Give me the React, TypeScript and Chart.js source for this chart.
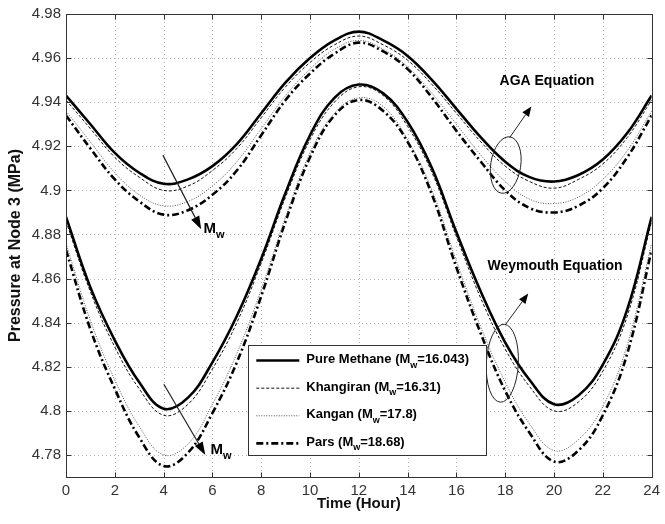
import React, { useEffect, useRef } from 'react';
import { Chart, registerables } from 'chart.js';

Chart.register(...registerables);

const FONT = '"Liberation Sans", Arial, Helvetica, sans-serif';

// ---- data ----
const hours = [0, 1, 2, 3, 4, 5, 6, 7, 8, 9, 10, 11, 12, 13, 14, 15, 16, 17, 18, 19, 20, 21, 22, 23, 24];

const agaPureMethane = [4.943, 4.930, 4.917, 4.908, 4.903, 4.905, 4.911, 4.921, 4.935, 4.949, 4.960, 4.968, 4.972, 4.968, 4.961, 4.950, 4.937, 4.924, 4.913, 4.906, 4.904, 4.907, 4.914, 4.926, 4.943];
const agaKhangiran = [4.941, 4.928, 4.915, 4.906, 4.900, 4.902, 4.909, 4.919, 4.933, 4.947, 4.958, 4.966, 4.970, 4.966, 4.959, 4.948, 4.935, 4.922, 4.911, 4.904, 4.901, 4.905, 4.912, 4.924, 4.941];
const agaKangan = [4.936, 4.922, 4.908, 4.898, 4.893, 4.895, 4.902, 4.913, 4.928, 4.943, 4.955, 4.964, 4.968, 4.964, 4.956, 4.944, 4.930, 4.916, 4.904, 4.896, 4.894, 4.897, 4.905, 4.918, 4.936];
const agaPars = [4.934, 4.919, 4.905, 4.895, 4.889, 4.891, 4.898, 4.909, 4.925, 4.941, 4.953, 4.962, 4.967, 4.963, 4.955, 4.942, 4.927, 4.913, 4.900, 4.892, 4.890, 4.893, 4.901, 4.915, 4.934];

const weyPureMethane = [4.888, 4.856, 4.832, 4.813, 4.801, 4.806, 4.822, 4.843, 4.869, 4.899, 4.925, 4.942, 4.948, 4.944, 4.931, 4.910, 4.881, 4.854, 4.831, 4.814, 4.803, 4.807, 4.821, 4.846, 4.888];
const weyKhangiran = [4.886, 4.854, 4.829, 4.810, 4.798, 4.803, 4.819, 4.840, 4.867, 4.897, 4.923, 4.940, 4.947, 4.943, 4.929, 4.908, 4.879, 4.851, 4.828, 4.811, 4.800, 4.804, 4.818, 4.843, 4.886];
const weyKangan = [4.876, 4.841, 4.814, 4.793, 4.780, 4.785, 4.803, 4.826, 4.855, 4.888, 4.917, 4.935, 4.942, 4.938, 4.923, 4.900, 4.868, 4.838, 4.813, 4.794, 4.782, 4.787, 4.802, 4.830, 4.876];
const weyPars = [4.873, 4.837, 4.810, 4.788, 4.775, 4.781, 4.799, 4.822, 4.852, 4.886, 4.915, 4.934, 4.941, 4.936, 4.922, 4.898, 4.865, 4.835, 4.809, 4.790, 4.777, 4.782, 4.798, 4.826, 4.873];

const xTickValues = [0, 2, 4, 6, 8, 10, 12, 14, 16, 18, 20, 22, 24];
const yTickValues = [4.78, 4.8, 4.82, 4.84, 4.86, 4.88, 4.9, 4.92, 4.94, 4.96, 4.98];

const gasNames = ['Pure Methane', 'Khangiran', 'Kangan', 'Pars'];
const gasMw = ['16.043', '16.31', '17.8', '18.68'];

// ---- styles ----
const gasStyles = [
  { color: '#000000', width: 2.6, dash: [] as number[] },
  { color: '#111111', width: 1, dash: [3, 2] },
  { color: '#555555', width: 1, dash: [1, 1.5] },
  { color: '#000000', width: 2.6, dash: [7, 3, 2, 3] },
];

const seriesAga = [agaPureMethane, agaKhangiran, agaKangan, agaPars];
const seriesWey = [weyPureMethane, weyKhangiran, weyKangan, weyPars];

function drawArrow(ctx: CanvasRenderingContext2D, x1: number, y1: number, x2: number, y2: number, headLen: number, headW: number) {
  const ang = Math.atan2(y2 - y1, x2 - x1);
  const bx = x2 - Math.cos(ang) * headLen;
  const by = y2 - Math.sin(ang) * headLen;
  ctx.beginPath();
  ctx.moveTo(x1, y1);
  ctx.lineTo(bx, by);
  ctx.stroke();
  ctx.beginPath();
  ctx.moveTo(x2, y2);
  ctx.lineTo(bx + Math.sin(ang) * headW / 2, by - Math.cos(ang) * headW / 2);
  ctx.lineTo(bx - Math.sin(ang) * headW / 2, by + Math.cos(ang) * headW / 2);
  ctx.closePath();
  ctx.fill();
}

function drawSubText(ctx: CanvasRenderingContext2D, x: number, y: number, pre: string, sub: string, post: string, size: number) {
  ctx.textAlign = 'left';
  ctx.textBaseline = 'middle';
  ctx.font = `bold ${size}px ${FONT}`;
  ctx.fillText(pre, x, y);
  let cx = x + ctx.measureText(pre).width;
  const subSize = Math.round(size * 0.72);
  ctx.font = `bold ${subSize}px ${FONT}`;
  ctx.fillText(sub, cx, y + size * 0.42);
  cx += ctx.measureText(sub).width;
  ctx.font = `bold ${size}px ${FONT}`;
  ctx.fillText(post, cx, y);
}

const framePlugin = {
  id: 'matlabFrame',
  beforeDatasetsDraw(chart: any) {
    const { ctx, chartArea: a, scales } = chart;
    ctx.save();
    ctx.strokeStyle = '#b4b4b4';
    ctx.lineWidth = 1;
    ctx.setLineDash([1, 3]);
    xTickValues.forEach((v) => {
      const px = Math.round(scales.x.getPixelForValue(v)) + 0.5;
      ctx.beginPath();
      ctx.moveTo(px, a.top);
      ctx.lineTo(px, a.bottom);
      ctx.stroke();
    });
    yTickValues.forEach((v) => {
      const py = Math.round(scales.y.getPixelForValue(v)) + 0.5;
      ctx.beginPath();
      ctx.moveTo(a.left, py);
      ctx.lineTo(a.right, py);
      ctx.stroke();
    });
    ctx.restore();
  },
  afterDatasetsDraw(chart: any) {
    const { ctx, chartArea: a, scales } = chart;
    ctx.save();
    ctx.setLineDash([]);
    ctx.strokeStyle = '#333333';
    ctx.lineWidth = 1;
    const L = Math.round(a.left) + 0.5, R = Math.round(a.right) + 0.5;
    const T = Math.round(a.top) + 0.5, B = Math.round(a.bottom) + 0.5;
    ctx.strokeRect(L, T, R - L, B - T);
    const tl = 5;
    ctx.beginPath();
    xTickValues.forEach((v) => {
      const px = Math.round(scales.x.getPixelForValue(v)) + 0.5;
      ctx.moveTo(px, B); ctx.lineTo(px, B - tl);
      ctx.moveTo(px, T); ctx.lineTo(px, T + tl);
    });
    yTickValues.forEach((v) => {
      const py = Math.round(scales.y.getPixelForValue(v)) + 0.5;
      ctx.moveTo(L, py); ctx.lineTo(L + tl, py);
      ctx.moveTo(R, py); ctx.lineTo(R - tl, py);
    });
    ctx.stroke();
    ctx.restore();
  },
  afterDraw(chart: any) {
    const { ctx, scales } = chart;
    const X = (v: number) => scales.x.getPixelForValue(v);
    const Y = (v: number) => scales.y.getPixelForValue(v);
    ctx.save();
    ctx.fillStyle = '#000';
    ctx.strokeStyle = '#222';
    ctx.lineWidth = 1;
    ctx.setLineDash([]);

    // Equation labels
    ctx.font = `bold 14px ${FONT}`;
    ctx.textAlign = 'center';
    ctx.textBaseline = 'middle';
    ctx.fillText('AGA Equation', X(19.71), Y(4.9494));
    ctx.fillText('Weymouth Equation', X(20.04), Y(4.8658));

    // ellipses
    ctx.beginPath();
    ctx.ellipse(X(18.02), Y(4.9115), 15, 28.5, 0.15, 0, Math.PI * 2);
    ctx.stroke();
    ctx.beginPath();
    ctx.ellipse(X(17.88), Y(4.8216), 16, 39, 0.05, 0, Math.PI * 2);
    ctx.stroke();

    // arrows from ellipses to labels
    drawArrow(ctx, X(18.18), Y(4.9239), X(19.07), Y(4.9381), 10, 8);
    drawArrow(ctx, X(18.0), Y(4.839), X(18.94), Y(4.8532), 10, 8);

    // Mw arrows
    ctx.lineWidth = 1.2;
    drawArrow(ctx, X(3.97), Y(4.916), X(5.54), Y(4.8824), 13, 9);
    drawArrow(ctx, X(4.01), Y(4.8121), X(5.71), Y(4.780), 13, 9);
    drawSubText(ctx, X(5.63), Y(4.8825), 'M', 'w', '', 15);
    drawSubText(ctx, X(5.92), Y(4.7823), 'M', 'w', '', 15);

    // legend box
    const lx1 = X(7.47), lx2 = X(17.22), ly1 = Y(4.8297), ly2 = Y(4.7796);
    ctx.fillStyle = '#ffffff';
    ctx.fillRect(lx1, ly1, lx2 - lx1, ly2 - ly1);
    ctx.strokeStyle = '#333';
    ctx.lineWidth = 1;
    ctx.strokeRect(Math.round(lx1) + 0.5, Math.round(ly1) + 0.5, Math.round(lx2 - lx1), Math.round(ly2 - ly1));
    const rowH = (ly2 - ly1) / 4;
    gasNames.forEach((name, i) => {
      const st = gasStyles[i];
      const cy = ly1 + rowH * (i + 0.55);
      ctx.strokeStyle = st.color;
      ctx.lineWidth = st.width;
      ctx.setLineDash(st.dash);
      ctx.beginPath();
      ctx.moveTo(lx1 + 8, cy);
      ctx.lineTo(lx1 + 51, cy);
      ctx.stroke();
      ctx.setLineDash([]);
      ctx.fillStyle = '#000';
      drawSubText(ctx, lx1 + 58, cy - 1, `${name} (M`, 'w', `=${gasMw[i]})`, 13);
    });
    ctx.restore();
  },
};

export default function App() {
  const ref = useRef<HTMLCanvasElement | null>(null);
  useEffect(() => {
    if (!ref.current) return;
    const datasets: any[] = [];
    [seriesAga, seriesWey].forEach((group, gi) => {
      group.forEach((arr, i) => {
        const st = gasStyles[i];
        datasets.push({
          label: `${gasNames[i]} ${gi === 0 ? 'AGA' : 'Weymouth'}`,
          data: hours.map((h, k) => ({ x: h, y: arr[k] })),
          borderColor: st.color,
          borderWidth: st.width,
          borderDash: st.dash,
          pointRadius: 0,
          fill: false,
          tension: 0.4,
        });
      });
    });
    const chart = new Chart(ref.current, {
      type: 'line',
      data: { datasets },
      plugins: [framePlugin],
      options: {
        responsive: false,
        animation: false,
        devicePixelRatio: 1,
        layout: { padding: { left: 0, top: 13, right: 10, bottom: 0 } },
        plugins: { legend: { display: false }, tooltip: { enabled: false } },
        scales: {
          x: {
            type: 'linear',
            min: 0,
            max: 24,
            grid: { display: false, drawTicks: false },
            border: { display: false },
            afterBuildTicks: (s: any) => { s.ticks = xTickValues.map((v) => ({ value: v })); },
            afterFit: (s: any) => { s.height = 47; },
            ticks: { font: { family: FONT, size: 15 }, color: '#333', padding: 5, maxRotation: 0, autoSkip: false },
            title: {
              display: true,
              text: 'Time (Hour)',
              font: { family: FONT, size: 15, weight: 'bold' },
              color: '#111',
              padding: { top: 0, bottom: 11 },
            },
          },
          y: {
            type: 'linear',
            min: 4.77,
            max: 4.98,
            grid: { display: false, drawTicks: false },
            border: { display: false },
            afterBuildTicks: (s: any) => { s.ticks = yTickValues.map((v) => ({ value: v })); },
            afterFit: (s: any) => { s.width = 66; },
            ticks: {
              font: { family: FONT, size: 15 },
              color: '#333',
              padding: 5,
              autoSkip: false,
              callback: (v: any) => String(Number(Number(v).toFixed(2))),
            },
            title: {
              display: true,
              text: 'Pressure at Node 3 (MPa)',
              font: { family: FONT, size: 16, weight: 'bold' },
              color: '#111',
              padding: { top: 6, bottom: 0 },
            },
          },
        },
      } as any,
    });
    return () => chart.destroy();
  }, []);
  return (
    <div style={{ position: 'fixed', left: 0, top: 0, width: 665, height: 524, background: '#fff' }}>
      <canvas ref={ref} width={665} height={524} style={{ display: 'block' }} />
    </div>
  );
}
